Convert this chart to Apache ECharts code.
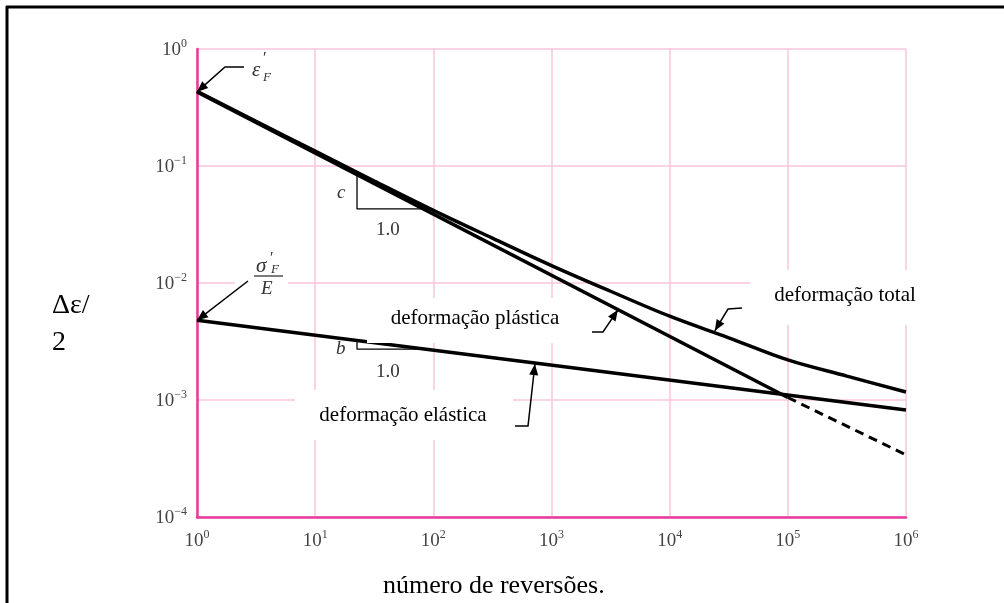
<!DOCTYPE html>
<html><head><meta charset="utf-8">
<script src="https://cdn.jsdelivr.net/npm/echarts@6/dist/echarts.min.js"></script>
<style>html,body{margin:0;padding:0;background:#fff}#c{width:1004px;height:603px}</style>
</head><body><div id="c"></div>
<script>
// ---- data ----
const xTicks = [1, 10, 100, 1000, 10000, 100000, 1000000];
const yTicks = [0.0001, 0.001, 0.01, 0.1, 1];
const plasticN = [1, 100000];
const plasticE = [0.43, 0.00105];
const plasticExtN = [100000, 1000000];
const plasticExtE = [0.00105, 0.00034];
const elasticN = [1, 1000000];
const elasticE = [0.0048, 0.00082];
const totalN = [1, 3.16, 10, 31.6, 100, 316, 1000, 3162, 10000, 31623, 100000, 316228, 1000000];
const totalE = [0.435, 0.241, 0.134, 0.0745, 0.0418, 0.0242, 0.0141, 0.0085, 0.0052, 0.0034, 0.0022, 0.0016, 0.00117];
const cTriN = [22.6, 22.6, 80];
const cTriE = [0.0843, 0.043, 0.043];
const bTriN = [22.6, 22.6, 80];
const bTriE = [0.00322, 0.00272, 0.00272];
// arrow tips (points on the curves)
const tipEps = [1, 0.43];
const tipSig = [1, 0.0048];
const tipPlastic = [3650, 0.0059];
const tipTotal = [24100, 0.0039];
const tipElastic = [724, 0.00203];

const zip = (a, b) => a.map((v, i) => [v, b[i]]);
const SERIF = 'Liberation Serif';
const GRID = '#f8c4dc', AXIS = '#e8399a';

function supLabel(v) {
  const e = Math.round(Math.log10(v));
  return '{b|10}{s|' + String(e).replace('-', '\u2212') + '}';
}
const rich = {
  b: {fontSize: 19, fontFamily: SERIF, color: '#444', lineHeight: 22, verticalAlign: 'bottom'},
  s: {fontSize: 12, fontFamily: SERIF, color: '#444', lineHeight: 22, verticalAlign: 'top'}
};

const chart = echarts.init(document.getElementById('c'), null, {renderer: 'canvas'});
const lineS = (name, data, w, dash, smooth) => ({
  name, type: 'line', data, showSymbol: false, silent: true, z: 3, smooth: smooth || false,
  lineStyle: {color: '#000', width: w, type: dash || 'solid'}
});
chart.setOption({
  animation: false,
  backgroundColor: '#fff',
  grid: {left: 197, top: 49, width: 709, height: 468},
  xAxis: {
    type: 'log', logBase: 10, min: 1, max: 1000000,
    axisLine: {show: true, onZero: false, lineStyle: {color: AXIS, width: 2.5}},
    axisTick: {show: false}, minorTick: {show: false},
    splitLine: {show: true, lineStyle: {color: GRID, width: 1.5}},
    axisLabel: {formatter: supLabel, rich, margin: 12, showMaxLabel: true, showMinLabel: true}
  },
  yAxis: {
    type: 'log', logBase: 10, min: 0.0001, max: 1,
    axisLine: {show: true, onZero: false, lineStyle: {color: AXIS, width: 2.5}},
    axisTick: {show: false},
    splitLine: {show: true, lineStyle: {color: GRID, width: 1.5}},
    axisLabel: {formatter: supLabel, rich, margin: 10, showMaxLabel: true, showMinLabel: true}
  },
  series: [
    lineS('total', zip(totalN, totalE), 3.5, null, 0.35),
    lineS('plastic', zip(plasticN, plasticE), 3.5),
    lineS('plasticExt', zip(plasticExtN, plasticExtE), 3, [9, 6]),
    lineS('elastic', zip(elasticN, elasticE), 3.5),
    lineS('cTri', zip(cTriN, cTriE), 1.3),
    lineS('bTri', zip(bTriN, bTriE), 1.3)
  ]
});

const px = p => chart.convertToPixel({gridIndex: 0}, p);
const g = [];
function arrow(points) {
  g.push({type: 'polyline', shape: {points}, style: {stroke: '#000', lineWidth: 1.5, fill: null}, z: 20});
  const t = points[points.length - 1], f = points[points.length - 2];
  const dx = t[0] - f[0], dy = t[1] - f[1], L = Math.hypot(dx, dy);
  const ux = dx / L, uy = dy / L, len = 11, w = 4.5;
  const bx = t[0] - ux * len, by = t[1] - uy * len;
  g.push({type: 'polygon', shape: {points: [t, [bx - uy * w, by + ux * w], [bx + uy * w, by - ux * w]]},
    style: {fill: '#000'}, z: 21});
}
function box(x, y, w, h) {
  g.push({type: 'rect', shape: {x, y, width: w, height: h}, style: {fill: '#fff'}, z: 10});
}
function txt(x, y, text, size, opts) {
  g.push({type: 'text', x, y, z: 22, style: Object.assign({text, fontFamily: SERIF, fontSize: size, fill: '#000',
    textAlign: 'left', textVerticalAlign: 'middle'}, opts || {})});
}
// outer frame
g.push({type: 'line', shape: {x1: 6, y1: 7, x2: 1004, y2: 7}, style: {stroke: '#000', lineWidth: 3}, z: 30});
g.push({type: 'line', shape: {x1: 7, y1: 6, x2: 7, y2: 603}, style: {stroke: '#000', lineWidth: 3}, z: 30});

// label boxes
box(235, 250, 53, 48);
box(367, 298, 215, 45);
box(750, 270, 190, 55);
box(295, 390, 218, 50);

// epsilon'F
const pe = px(tipEps);
arrow([[244, 67], [225, 67], pe]);
txt(252, 70, '\u03b5', 21, {fontStyle: 'italic', fill: '#333'});
txt(263, 59, '\u2032', 16, {fill: '#333'});
txt(263, 78, 'F', 13, {fontStyle: 'italic', fill: '#333'});

// sigma'F / E
const ps = px(tipSig);
arrow([[248, 281], ps]);
txt(256, 266, '\u03c3', 21, {fontStyle: 'italic', fill: '#333'});
txt(270, 259, '\u2032', 16, {fill: '#333'});
txt(271, 270, 'F', 13, {fontStyle: 'italic', fill: '#333'});
g.push({type: 'line', shape: {x1: 254, y1: 276, x2: 283, y2: 276}, style: {stroke: '#333', lineWidth: 1.3}, z: 22});
txt(261, 289, 'E', 19, {fontStyle: 'italic', fill: '#333'});

// slope triangles labels
txt(337, 193, 'c', 19, {fontStyle: 'italic', fill: '#333'});
txt(376, 230, '1.0', 19, {fill: '#333'});
txt(336, 349, 'b', 19, {fontStyle: 'italic', fill: '#333'});
txt(376, 372, '1.0', 19, {fill: '#333'});

// curve labels
txt(475, 318, 'deformação plástica', 21, {textAlign: 'center'});
const pp = px(tipPlastic);
arrow([[592, 332], [603, 332], pp]);
txt(845, 295, 'deformação total', 21, {textAlign: 'center'});
const pt = px(tipTotal);
arrow([[742, 308], [728, 309], pt]);
txt(403, 415, 'deformação elástica', 21, {textAlign: 'center'});
const pl = px(tipElastic);
arrow([[515, 426], [528, 426], pl]);

// axis titles
txt(52, 306, '\u0394\u03b5/', 28);
txt(52, 343, '2', 28);
txt(383, 586, 'número de reversões.', 26);

chart.setOption({graphic: g});
</script></body></html>
